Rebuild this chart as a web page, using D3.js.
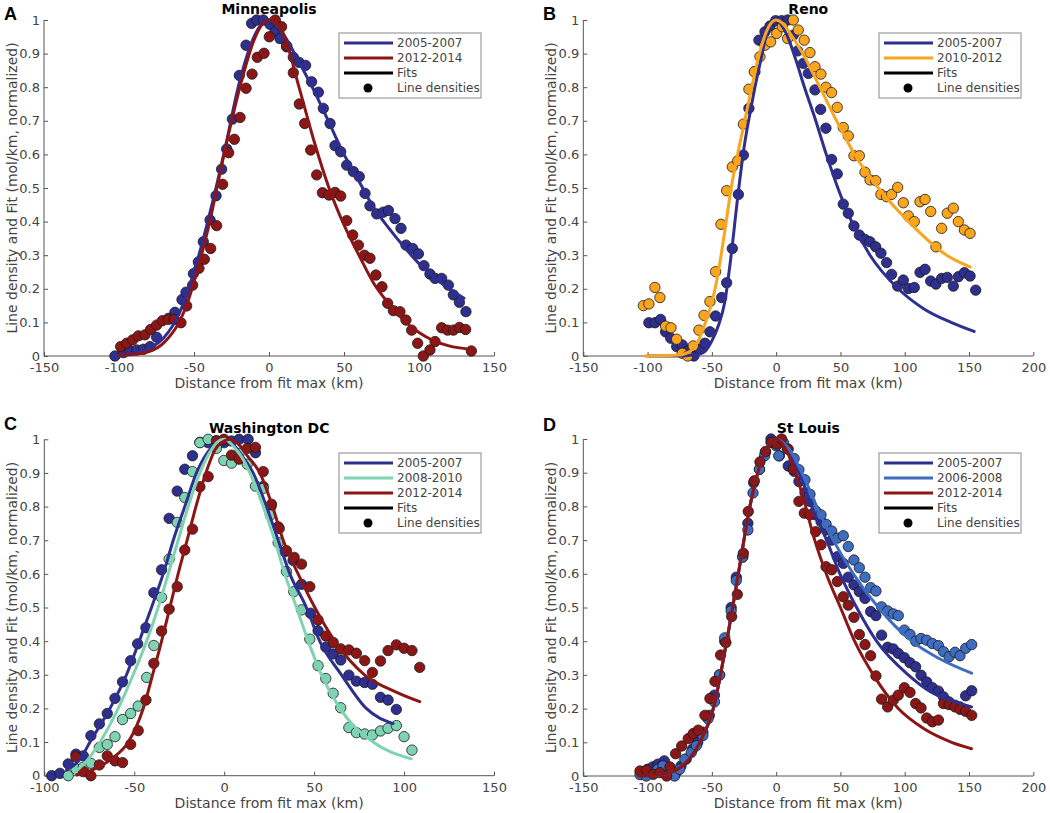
<!DOCTYPE html>
<html><head><meta charset="utf-8">
<script src="https://cdn.jsdelivr.net/npm/d3@7"></script>
<style>
body{margin:0;background:#fff;}
svg{display:block;font-family:"DejaVu Sans",sans-serif;}
</style></head>
<body><svg id="c" width="1050" height="813"></svg>
<script>
// ---------- Colours per period ----------
const periodColors = {"2005-2007":"#2e2f8f","2006-2008":"#3d6cc0","2008-2010":"#7fd3b2","2010-2012":"#f9a51e","2012-2014":"#8c1616"};

// ---------- Shared tick values ----------
const yTicks = [0,0.1,0.2,0.3,0.4,0.5,0.6,0.7,0.8,0.9,1];
const xTicksA = [-150,-100,-50,0,50,100,150];
const xTicksB = [-150,-100,-50,0,50,100,150,200];
const xTicksC = [-100,-50,0,50,100,150];
const xTicksD = [-150,-100,-50,0,50,100,150,200];

// ---------- A: Minneapolis ----------
const mplsDots0507 = [[-102.7,0],[-97,0.01],[-92.7,0.016],[-88.2,0.018],[-83.8,0.02],[-79.3,0.028],[-74.9,0.056],[-67,0.112],[-62.7,0.13],[-58,0.168],[-55.3,0.19],[-50.4,0.245],[-47.1,0.28],[-43.8,0.34],[-39.3,0.405],[-35.3,0.477],[-31.6,0.556],[-28.2,0.616],[-24.4,0.705],[-19.8,0.835],[-15.3,0.925],[-11.6,0.99],[-8.2,1.0],[-3.8,1.0],[0.7,0.987],[4,0.965],[7.3,0.945],[11.8,0.92],[16.2,0.889],[20,0.874],[24.4,0.865],[28.4,0.816],[32.9,0.785],[36.2,0.737],[40.7,0.692],[44,0.626],[47.8,0.608],[51.8,0.568],[56.2,0.549],[60.2,0.534],[64,0.484],[67.3,0.447],[71.8,0.423],[76.2,0.428],[79.6,0.433],[84,0.409],[88,0.38],[91.3,0.33],[95.8,0.32],[99.6,0.304],[103.3,0.269],[107.3,0.244],[110.7,0.231],[115.1,0.231],[119.6,0.211],[122.9,0.182],[126.9,0.16],[131.3,0.132]];
const mplsDots1214 = [[-98.9,.028],[-94.9,.038],[-90.9,.048],[-87.1,.06],[-82.7,.063],[-78.9,.079],[-74.9,.092],[-71.1,.105],[-67.1,.109],[-63.3,.109],[-58.7,.099],[-54.9,.149],[-50.9,.211],[-46.7,.261],[-43.1,.288],[-38.9,.32],[-34.9,.388],[-30.9,.511],[-26.9,.605],[-23.1,.645],[-19.3,.71],[-15.3,.797],[-11.3,.839],[-7.8,.889],[-3.3,.901],[0.2,.95],[4.2,1.0],[8.4,.98],[11.8,.923],[16.2,.843],[20.2,.75],[23.8,.692],[27.8,.613],[31.8,.539],[35.6,.486],[40,.479],[44,.487],[47.8,.476],[51.8,.403],[55.8,.36],[59.6,.33],[63.6,.3],[67.3,.291],[71.3,.241],[75.3,.206],[79.1,.157],[82.9,.135],[87.3,.132],[91.3,.107],[95.1,.077],[99.1,.038],[102.9,0],[107.3,.018],[110.7,.043],[115.1,.084],[119.1,.077],[122.9,.077],[126.9,.085],[131.1,.079],[134.9,.015]];
const mplsFit0507 = [[-100,0],[-90,0.008],[-80,0.022],[-70,0.055],[-60,0.125],[-50,0.25],[-40,0.415],[-30,0.603],[-20,0.81],[-10,0.95],[-4,0.993],[0,1],[5,0.985],[10,0.955],[20,0.875],[30,0.79],[40,0.695],[50,0.6],[60,0.52],[70,0.44],[80,0.38],[90,0.325],[100,0.275],[110,0.235],[120,0.2],[130,0.172]];
const mplsFit1214 = [[-100,0.002],[-90,0.005],[-80,0.013],[-70,0.04],[-60,0.1],[-55,0.15],[-50,0.22],[-40,0.39],[-30,0.6],[-20,0.79],[-10,0.94],[-5,0.985],[0,1],[5,0.99],[10,0.955],[20,0.8],[30,0.64],[40,0.5],[50,0.39],[60,0.3],[70,0.215],[80,0.155],[90,0.105],[100,0.07],[110,0.045],[120,0.03],[134,0.02]];

// ---------- B: Reno ----------
const renoDots0507 = [[-99,.099],[-94.3,.099],[-89.9,.109],[-86,.072],[-82,.053],[-77.4,.028],[-73,.033],[-68.8,.015],[-64,0],[-59.7,.02],[-55.4,.038],[-51.5,.072],[-47.1,.119],[-42.4,.174],[-38.5,.218],[-34.1,.32],[-29.4,.481],[-25.5,.598],[-21.2,.737],[-16.5,.846],[-13.4,.94],[-8.7,.965],[-4.8,.982],[-0.4,.998],[4.2,.998],[8.9,1.0],[13.3,.955],[16.7,.908],[21.1,.871],[25,.841],[30.2,.792],[34.6,.734],[38.7,.678],[43.1,.585],[47.5,.542],[52.2,.452],[56.1,.425],[60.5,.387],[64.7,.36],[69.1,.347],[73,.34],[77.4,.325],[81.5,.306],[85.9,.278],[89.8,.243],[94.5,.208],[98.9,.226],[102.8,.201],[107.4,.204],[111.9,.249],[115.8,.258],[120.2,.223],[124.3,.214],[128.7,.231],[133.1,.234],[137.8,.208],[141.7,.236],[146.4,.248],[150.8,.238],[155.2,.196]];
const renoDots1012 = [[-103.3,.15],[-99,.155],[-94.3,.204],[-90.4,.174],[-86,.089],[-81.8,.084],[-77.4,.05],[-73,.008],[-68.8,0],[-64.5,.03],[-60.1,.077],[-56.1,.121],[-51.5,.162],[-47.1,.251],[-42.9,.392],[-38.5,.492],[-34.1,.563],[-29.9,.581],[-25.5,.69],[-21.2,.794],[-17,.846],[-12.6,.891],[-8.7,.925],[-4.3,.935],[0.4,.96],[4.8,.98],[8.9,.945],[13.3,1.0],[17.2,.97],[21.8,.94],[26.3,.903],[30.2,.861],[34.8,.839],[38.7,.8],[43.1,.784],[47.5,.74],[52.2,.68],[56.1,.655],[60.5,.596],[64.7,.596],[69.1,.547],[73,.524],[77.4,.522],[81.5,.481],[85.9,.474],[89.8,.481],[94.5,.502],[98.9,.456],[102.8,.417],[107.4,.4],[111.9,.459],[115.8,.466],[120.2,.43],[124.3,.325],[128.7,.38],[133.1,.425],[137.8,.44],[141.7,.4],[146.4,.375],[150.8,.365]];
const renoFit0507 = [[-100,0],[-80,0],[-70,0.001],[-60,0.005],[-55,0.015],[-50,0.045],[-45,0.09],[-40,0.16],[-35,0.3],[-30,0.47],[-25,0.62],[-20,0.73],[-16.5,0.8],[-12,0.88],[-8,0.95],[-4,0.99],[0,1],[5,0.98],[10,0.94],[15,0.885],[22,0.8],[30,0.71],[39,0.6],[48,0.5],[58.7,0.4],[73,0.3],[95,0.2],[115,0.14],[136,0.1],[154,0.073]];
const renoFit1012 = [[-102.5,0],[-90,0.001],[-80,0.002],[-73.5,0.004],[-65,0.02],[-60,0.05],[-55,0.1],[-50,0.16],[-47.5,0.2],[-45,0.25],[-40,0.37],[-35,0.5],[-30,0.6],[-25,0.69],[-19,0.8],[-15,0.87],[-10,0.94],[-5,0.985],[0,1],[5,0.99],[10,0.965],[20,0.905],[34,0.8],[47,0.7],[61,0.6],[79.5,0.5],[103,0.4],[132.6,0.3],[150.8,0.265]];

// ---------- C: Washington DC ----------
const dcDots0507 = [[-95.9,0],[-91.3,.007],[-86.7,.035],[-82.4,.064],[-78.3,.059],[-74.1,.119],[-69.4,.154],[-65,.185],[-60.7,.23],[-56.5,.279],[-52,.342],[-48.1,.392],[-43.5,.44],[-39.1,.544],[-34.8,.612],[-30.6,.765],[-26.1,.846],[-21.9,.911],[-17.6,.951],[-13.5,.991],[-8.9,.99],[-4.3,.995],[0,.99],[4.1,.995],[8.3,1.0],[13.3,1.0],[17.4,.96],[21.7,.86],[26,.8],[30,.74],[33.7,.666],[38.3,.64],[43,.569],[48,.483],[52.2,.431],[56.5,.382],[60.6,.362],[64.8,.344],[69.3,.299],[73.5,.281],[78.1,.277],[82.4,.272],[86.9,.233],[91.1,.225],[95.7,.197]];
const dcDots0810 = [[-86.7,0],[-82.4,.02],[-78.3,.025],[-74.1,.037],[-69.4,.084],[-65,.093],[-60.7,.116],[-56.5,.167],[-52,.185],[-47.8,.207],[-43.1,.292],[-39.1,.387],[-34.8,.53],[-30.6,.644],[-26.1,.753],[-21.9,.827],[-17.6,.904],[-13.5,.99],[-8.9,1.0],[-4.3,.973],[-0.2,.937],[4.1,.929],[8.3,.958],[12.8,.926],[17.4,.861],[21.7,.854],[25.7,.775],[30,.693],[34.6,.607],[38.7,.547],[43,.493],[47.6,.406],[52.2,.327],[56.5,.289],[60.6,.245],[64.8,.202],[69.3,.143],[73.5,.128],[78.1,.124],[82.4,.121],[86.9,.133],[91.1,.141],[95.7,.149],[100,.116],[104.4,.076]];
const dcDots1214 = [[-82.4,.056],[-78.3,.012],[-74.1,0],[-69.4,.032],[-65,.059],[-60.7,.044],[-56.5,.039],[-52,.093],[-47.8,.134],[-43.5,.225],[-39.1,.334],[-34.8,.43],[-30.6,.495],[-26.1,.562],[-21.9,.671],[-17.6,.733],[-13.5,.859],[-8.9,.889],[-4.3,.996],[-0.2,1.0],[4.1,.953],[8.3,.941],[12.8,.973],[17.4,.976],[21.7,.904],[26.3,.807],[30.6,.735],[34.6,.669],[38.9,.649],[43,.629],[47.6,.562],[52.2,.463],[56.5,.415],[60.6,.396],[64.8,.377],[69.3,.374],[73.5,.364],[78.1,.342],[82.4,.307],[86.9,.341],[91.1,.372],[95.7,.389],[100,.379],[104.4,.372],[108.7,.322]];
const dcFit0507 = [[-87.6,0.017],[-80,0.05],[-74.6,0.1],[-63.5,0.2],[-54.3,0.3],[-47.2,0.4],[-40.4,0.5],[-33.9,0.6],[-28.3,0.7],[-21.9,0.8],[-15.4,0.9],[-8,0.97],[-3,0.995],[0,1],[5,0.985],[10,0.95],[16.1,0.9],[23.5,0.8],[30,0.7],[36.5,0.6],[45.7,0.5],[53.1,0.4],[65.2,0.3],[79,0.2],[93.9,0.155]];
const dcFit0810 = [[-83,0.01],[-75.5,0.05],[-69,0.1],[-58.9,0.2],[-50.6,0.3],[-43.1,0.4],[-36.7,0.5],[-31.1,0.6],[-25.6,0.7],[-20,0.8],[-13.5,0.9],[-7,0.97],[-2,0.998],[0,1],[5,0.98],[10,0.945],[14.3,0.9],[21.7,0.8],[28.1,0.7],[33.7,0.6],[40.2,0.5],[46.7,0.4],[54.1,0.3],[64.3,0.2],[82.8,0.1],[104,0.05]];
const dcFit1214 = [[-82,0.002],[-72,0.02],[-62.6,0.05],[-53.3,0.1],[-45,0.2],[-39.8,0.3],[-34.8,0.4],[-30.2,0.5],[-25.6,0.6],[-20.6,0.7],[-15.7,0.8],[-10.2,0.9],[-5,0.97],[0,0.995],[3,1],[8,0.985],[13,0.95],[19.8,0.9],[26.9,0.8],[32.8,0.7],[41.1,0.6],[50.4,0.5],[61.5,0.4],[78,0.3],[95,0.25],[108.7,0.22]];

// ---------- D: St Louis ----------
const stlDots0507 = [[-105,.005],[-100,.02],[-96,.027],[-92,.035],[-87,.045],[-83,.02],[-78,.01],[-74,.03],[-70,.05],[-65,.08],[-61,.1],[-57,.13],[-52,.18],[-48,.24],[-44,.3],[-40,.4],[-35,.5],[-31,.59],[-26,.65],[-22,.75],[-17.5,.87],[-13,.91],[-8.5,.96],[-4,1.0],[0,.99],[2.5,.95],[9.4,.92],[14,.904],[17.7,.874],[22.4,.841],[26.3,.815],[30.7,.775],[34.9,.755],[38.8,.73],[43.2,.7],[47.6,.651],[52.2,.631],[56.1,.59],[60.5,.567],[64.7,.547],[69.1,.527],[73.5,.488],[77.6,.476],[82,.418],[86.7,.382],[91.1,.377],[95,.364],[99.7,.351],[104.1,.336],[108.5,.324],[112.7,.299],[117.1,.279],[121.5,.262],[126.2,.252],[130.1,.235],[134.5,.22],[139.1,.21],[143,.205],[147.4,.238],[152.1,.253]];
const stlDots0608 = [[-105.9,.004],[-101,0],[-97,.01],[-92,.02],[-88,.03],[-84,.005],[-79,0],[-75,.02],[-71,.05],[-66,.07],[-62,.09],[-57,.12],[-53,.17],[-48,.22],[-44,.3],[-40,.41],[-35,.49],[-31,.58],[-26,.65],[-22,.73],[-18,.84],[-13,.91],[-9,.95],[-4,.99],[0,.98],[2,.95],[5.6,.99],[9.4,.97],[14,.942],[17.7,.909],[22.4,.879],[26.3,.836],[30.7,.787],[34.9,.775],[38.8,.747],[43.2,.727],[47.6,.706],[52.2,.713],[56.1,.681],[60.5,.641],[64.7,.618],[69.1,.59],[73.5,.559],[77.6,.549],[82,.502],[86.7,.49],[91.1,.481],[95,.476],[99.7,.433],[104.1,.42],[108.5,.4],[112.7,.408],[117.1,.403],[121.5,.393],[126.2,.387],[130.1,.369],[134.5,.354],[139.1,.367],[143,.357],[147.4,.379],[152.1,.39]];
const stlDots1214 = [[-105.9,.015],[-100.8,.017],[-95.6,.005],[-90.4,.01],[-85.2,0],[-82.6,.027],[-78.2,.066],[-73.5,.089],[-68.4,.111],[-64.5,.126],[-60.6,.136],[-55.4,.18],[-51.5,.23],[-47.6,.281],[-43.2,.359],[-39.1,.396],[-34.6,.473],[-30.2,.539],[-25.5,.661],[-21.7,.785],[-17,.876],[-12.6,.932],[-8.2,.963],[-3.5,.991],[0.4,.985],[4.2,1.0],[8.6,.971],[13.3,.911],[17.7,.815],[21.9,.78],[26.3,.775],[30.7,.725],[34.9,.686],[38.8,.621],[43.2,.612],[47.6,.577],[52.2,.532],[56.1,.507],[60.5,.471],[64.7,.42],[69.1,.39],[73.5,.357],[77.6,.297],[82,.228],[86.7,.205],[91.1,.225],[95,.24],[99.7,.262],[104.1,.248],[108.5,.215],[112.7,.202],[117.1,.172],[121.5,.161],[126.2,.166],[130.1,.215],[134.5,.212],[139.1,.205],[143,.198],[147.4,.192],[152.1,.18]];
const stlFit0507 = [[-105,0],[-90,0.004],[-80,0.014],[-70,0.042],[-59.3,0.1],[-48.9,0.2],[-38.5,0.4],[-29.4,0.6],[-20.4,0.8],[-10,0.95],[-4,0.99],[0,1],[10,0.96],[20,0.88],[27.6,0.8],[39.2,0.7],[49.6,0.6],[62.6,0.5],[78.1,0.4],[102.7,0.3],[120,0.25],[135,0.225],[152,0.205]];
const stlFit0608 = [[-101,0],[-90,0.004],[-80,0.013],[-70,0.042],[-59.3,0.1],[-48.9,0.2],[-38.5,0.4],[-29.4,0.6],[-20.4,0.8],[-10,0.95],[-4,0.99],[0,1],[10,0.97],[20,0.9],[31.5,0.8],[44.4,0.7],[60,0.6],[79.5,0.5],[105.4,0.4],[126,0.35],[152,0.305]];
const stlFit1214 = [[-107,0],[-100,0.001],[-90,0.004],[-80,0.013],[-70,0.04],[-59.3,0.1],[-48.9,0.2],[-38.5,0.4],[-29.4,0.6],[-20.4,0.8],[-10,0.95],[-4,0.99],[0,1],[5,0.985],[10,0.95],[20,0.84],[30,0.7],[40,0.59],[50,0.5],[61,0.4],[75.6,0.3],[95,0.2],[115,0.14],[136.5,0.1],[152,0.081]];

// ---------- Panel definitions (built from arrays above) ----------
const panels = [
  {letter:"A", title:"Minneapolis", lx:4, ly:20, xr:[44,494], yr:[356,20], xdom:[-150,150], xticks:xTicksA,
   series:[{name:"2005-2007",dots:mplsDots0507,fit:mplsFit0507},{name:"2012-2014",dots:mplsDots1214,fit:mplsFit1214}],
   leg:[339,33]},
  {letter:"B", title:"Reno", lx:543, ly:20, xr:[583.3,1033.3], yr:[356,20], xdom:[-150,200], xticks:xTicksB,
   series:[{name:"2005-2007",dots:renoDots0507,fit:renoFit0507},{name:"2010-2012",dots:renoDots1012,fit:renoFit1012}],
   leg:[879,33]},
  {letter:"C", title:"Washington DC", lx:4, ly:430, xr:[44.3,494], yr:[775.7,439.3], xdom:[-100,150], xticks:xTicksC,
   series:[{name:"2005-2007",dots:dcDots0507,fit:dcFit0507},{name:"2008-2010",dots:dcDots0810,fit:dcFit0810},{name:"2012-2014",dots:dcDots1214,fit:dcFit1214}],
   leg:[339,453]},
  {letter:"D", title:"St Louis", lx:543, ly:431, xr:[583.3,1033.3], yr:[776,439], xdom:[-150,200], xticks:xTicksD,
   series:[{name:"2005-2007",dots:stlDots0507,fit:stlFit0507},{name:"2006-2008",dots:stlDots0608,fit:stlFit0608},{name:"2012-2014",dots:stlDots1214,fit:stlFit1214}],
   leg:[879,453]}
];

const svg = d3.select("#c");
const axisCol = "#555";
const textCol = "#444";

panels.forEach(p => {
  const x = d3.scaleLinear().domain(p.xdom).range(p.xr);
  const y = d3.scaleLinear().domain([0,1]).range(p.yr);
  const g = svg.append("g");

  // axes (inward ticks, box off); plain hyphen minus as in the original
  const xAxis = d3.axisBottom(x).tickValues(p.xticks).tickSize(-4).tickPadding(7).tickFormat(d => String(d));
  const yAxis = d3.axisLeft(y).tickValues(yTicks).tickSize(-4).tickPadding(4).tickFormat(d => String(d));
  const gx = g.append("g").attr("transform",`translate(0,${p.yr[0]})`).call(xAxis);
  const gy = g.append("g").attr("transform",`translate(${p.xr[0]},0)`).call(yAxis);
  [gx,gy].forEach(a=>{
    a.select(".domain").attr("stroke",axisCol).attr("stroke-width",1);
    a.selectAll(".tick line").attr("stroke",axisCol);
    a.selectAll(".tick text").attr("fill",textCol).style("font-size","13px").style("font-family","DejaVu Sans");
  });
  gx.select(".domain").attr("d",`M${p.xr[0]},0H${p.xr[1]}`);
  gy.select(".domain").attr("d",`M0,${p.yr[0]}V${p.yr[1]}`);

  // data points
  p.series.forEach(s => {
    g.append("g").selectAll("circle").data(s.dots).join("circle")
      .attr("cx",d=>x(d[0])).attr("cy",d=>y(d[1])).attr("r",5.2)
      .attr("fill",periodColors[s.name]).attr("stroke","#1a1a1a").attr("stroke-width",0.8);
  });
  // fits
  const line = d3.line().x(d=>x(d[0])).y(d=>y(d[1])).curve(d3.curveMonotoneX);
  p.series.forEach(s => {
    g.append("path").attr("d",line(s.fit)).attr("fill","none")
      .attr("stroke",periodColors[s.name]).attr("stroke-width",3).attr("stroke-linecap","round");
  });

  // labels
  const cx = (p.xr[0]+p.xr[1])/2, cy = (p.yr[0]+p.yr[1])/2;
  g.append("text").attr("x",cx).attr("y",p.yr[0]+32).attr("text-anchor","middle")
    .attr("fill",textCol).style("font-size","14px").text("Distance from fit max (km)");
  g.append("text").attr("transform",`translate(${p.xr[0]-27},${cy}) rotate(-90)`).attr("text-anchor","middle")
    .attr("fill",textCol).style("font-size","14px").text("Line density and Fit (mol/km, normalized)");
  g.append("text").attr("x",cx).attr("y",p.yr[1]-6).attr("text-anchor","middle")
    .attr("fill","#000").style("font-size","14px").style("font-weight","bold").text(p.title);
  g.append("text").attr("x",p.lx).attr("y",p.ly)
    .attr("fill","#000").style("font-size","18px").style("font-weight","bold")
    .style("font-family","'Liberation Sans Narrow','Liberation Sans',sans-serif").text(p.letter);

  // legend
  const items = p.series.map(s=>({label:s.name,type:"line",color:periodColors[s.name]}))
    .concat([{label:"Fits",type:"line",color:"#000"},{label:"Line densities",type:"dot",color:"#000"}]);
  const [lx,ly] = p.leg;
  const lg = g.append("g").attr("transform",`translate(${lx},${ly})`);
  lg.append("rect").attr("x",0).attr("y",0).attr("width",142).attr("height",items.length*15+5)
    .attr("fill","#fff").attr("stroke","#888").attr("stroke-width",1);
  items.forEach((it,i)=>{
    const yy = 10 + i*15;
    if(it.type==="line") lg.append("line").attr("x1",5).attr("x2",54).attr("y1",yy).attr("y2",yy)
      .attr("stroke",it.color).attr("stroke-width",3);
    else lg.append("circle").attr("cx",29).attr("cy",yy).attr("r",4.5).attr("fill","#000");
    lg.append("text").attr("x",58).attr("y",yy+4.3).attr("fill",textCol).style("font-size","12px").text(it.label);
  });
});
</script>
</body></html>
